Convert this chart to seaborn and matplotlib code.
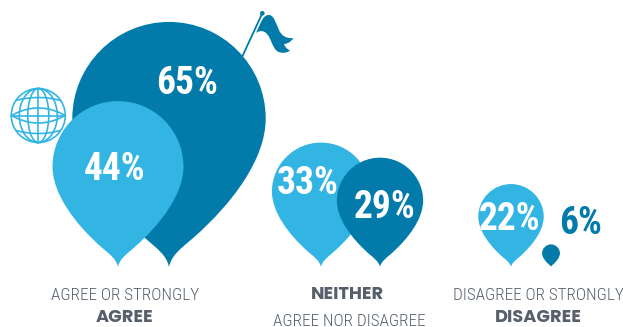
import numpy as np
import pandas as pd
import seaborn as sns
import matplotlib
matplotlib.use("Agg")
import matplotlib.pyplot as plt
from matplotlib.path import Path
from matplotlib.patches import Circle, Ellipse, PathPatch

# Survey responses, one pin per percentage
groups = ["Dark", "Light", "Light", "Dark", "Light", "Dark"]
values = [65, 44, 33, 29, 22, 6]
centres = [169, 118, 321, 380, 511, 551]
value_labels = ["65%", "44%", "33%", "29%", "22%", "6%"]
label_x = [187, 115, 308, 385, 510, 581]
label_y = [83, 169, 183, 207, 220, 223]
label_colors = ["white", "white", "white", "white", "white", "#027bab"]

DARK = "#027bab"
LIGHT = "#33b5e3"
GREY = "#55606b"
BASELINE = 267
PX_PER_POINT = 3.77  # pin height in pixels for one percentage point

NARROW = ["Roboto Condensed", "Liberation Sans", "DejaVu Sans"]
HEAVY = ["Poppins", "DejaVu Sans"]

sns.set_theme(style="white")
fig, ax = plt.subplots(figsize=(6.23, 3.27), dpi=100)
fig.subplots_adjust(0, 0, 1, 1)


def pin_marker():
    """Teardrop with its tip at the origin, one unit wide."""
    cy, r, k = 0.767, 0.5, 0.5 * 0.5523
    right = [(r, cy), (r, 0.56), (0.33, 0.33), (0.125, 0.15),
             (0.06, 0.095), (0.012, 0.06), (0, 0)]
    left = [(-x, y) for x, y in reversed(right)][1:]
    arc = [(-r, cy + k), (-k, cy + r), (0, cy + r), (k, cy + r), (r, cy + k), (r, cy)]
    verts = right + left + arc
    codes = [Path.MOVETO] + [Path.CURVE4] * (len(verts) - 1)
    return Path(verts + [right[0]], codes + [Path.CLOSEPOLY])


frame = pd.DataFrame({"centre": centres, "base": [BASELINE] * len(values),
                      "value": values, "group": groups})
# Marker paths are normalised to their tallest vertex: drawn height = sqrt(s) / 2 points
areas = {v: (2 * v * PX_PER_POINT * 0.72) ** 2 for v in values}
sns.scatterplot(data=frame, x="centre", y="base", hue="group", size="value",
                sizes=areas, palette={"Dark": DARK, "Light": LIGHT},
                marker=pin_marker(), linewidth=0, legend=False, ax=ax, zorder=3)

ax.set_xlim(0, 623)
ax.set_ylim(327, 0)
ax.set_axis_off()

for x, y, text, color in zip(label_x, label_y, value_labels, label_colors):
    ax.text(x, y, text, color=color, ha="center", va="center", family=NARROW,
            fontweight="bold", fontsize=27, zorder=5)

# Category captions
captions = [(125, 295, "AGREE OR STRONGLY", False), (125, 318.5, "AGREE", True),
            (347, 295, "NEITHER", True), (349, 321, "AGREE NOR DISAGREE", False),
            (538, 295, "DISAGREE OR STRONGLY", False), (538, 318.5, "DISAGREE", True)]
for x, y, text, strong in captions:
    ax.text(x, y, text, color=GREY, ha="center", va="center",
            family=HEAVY if strong else NARROW,
            fontweight="bold" if strong else "light",
            fontsize=12.8 if strong else 12.3)

# Globe icon
gx, gy, gr = 38.3, 115.5, 27
line = dict(fill=False, edgecolor=LIGHT, linewidth=1.2, zorder=2)
ax.add_patch(Circle((gx, gy), gr, **line))
for semi in (10.5, 19):
    ax.add_patch(Ellipse((gx, gy), semi * 2, gr * 2, **line))
ax.plot([gx, gx], [gy - gr, gy + gr], color=LIGHT, lw=1.2, zorder=2)
ax.plot([gx - gr, gx + gr], [gy, gy], color=LIGHT, lw=1.2, zorder=2)
t = np.linspace(-1, 1, 60)
for end, peak in ((-15, -18), (0, -7.5), (0, 7.5), (15, 18)):
    half = np.sqrt(gr ** 2 - end ** 2) - 0.3
    ax.plot(gx + half * t, gy + end + (peak - end) * (1 - t ** 2), color=LIGHT, lw=1.2, zorder=2)

# Flag icon
ax.plot([242.5, 262.3], [56, 13.3], color=DARK, lw=1.3, zorder=2, solid_capstyle="round")
ax.add_patch(Circle((262.3, 13.3), 1.6, color=DARK, zorder=2))
flag = [(256, 33),
        (260, 25), (262, 16), (268, 15),
        (274, 14), (276, 24), (279, 30),
        (281, 35), (286, 39), (293.5, 38),
        (291, 42), (287, 44), (284, 44),
        (285, 47), (287, 49), (290, 50.5),
        (287, 53), (281, 54), (277, 51),
        (272, 47), (271, 38), (267, 34),
        (264, 30.5), (260, 30), (256, 33)]
codes = [Path.MOVETO] + [Path.CURVE4] * (len(flag) - 1)
ax.add_patch(PathPatch(Path(flag, codes), facecolor=DARK, edgecolor="none", zorder=2))

fig.savefig("out.png", dpi=100, facecolor="white")
